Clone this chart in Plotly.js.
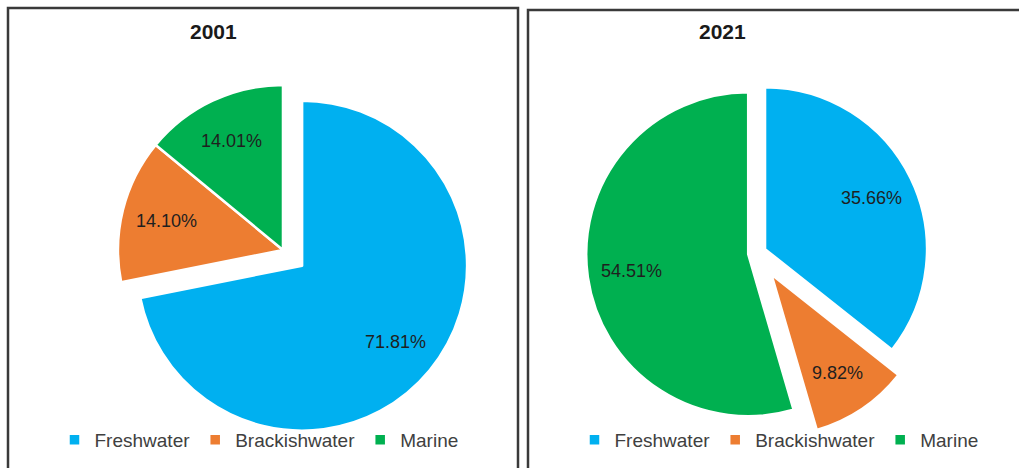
<!DOCTYPE html>
<html>
<head>
<meta charset="utf-8">
<script src="https://cdn.plot.ly/plotly-3.0.1.min.js"></script>
<style>
  html, body { margin: 0; padding: 0; background: #ffffff; }
  #chart { width: 1019px; height: 468px; }
</style>
</head>
<body>
<div id="chart"></div>
<script>
// ---- data ----
const categories = ['Freshwater', 'Brackishwater', 'Marine'];
const years = ['2001', '2021'];
const share2001 = [71.81, 14.10, 14.01];
const share2021 = [35.66, 9.82, 54.51];

// ---- styling ----
const colors = ['#00B0F0', '#ED7D31', '#00B050'];
const W = 1019, H = 468;
const px = x => x / W;
const py = y => 1 - y / H;
const font = 'Liberation Sans, Arial, sans-serif';
const labelFrac = 0.73;   // radial position of the value labels (fraction of radius)

const common = {
  type: 'pie',
  labels: categories,
  sort: false,
  direction: 'clockwise',
  rotation: 0,
  marker: { colors: colors, line: { color: '#ffffff', width: 2.5 } },
  textinfo: 'none',
  textposition: 'none',
  hoverinfo: 'label+value'
};

const trace2001 = Object.assign({}, common, {
  name: years[0],
  values: share2001,
  pull: [0.15, 0, 0],
  domain: { x: [0.0915, 0.4639], y: [0.0604, 0.8713] },
  legend: 'legend',
  legendgroup: 'y2001'
});

const trace2021 = Object.assign({}, common, {
  name: years[1],
  values: share2021,
  pull: [0.055, 0.16, 0.055],
  domain: { x: [0.5585, 0.9273], y: [0.0579, 0.8609] },
  legend: 'legend2',
  legendgroup: 'y2021'
});

const legendBase = {
  orientation: 'h',
  xanchor: 'center',
  yanchor: 'middle',
  y: py(440),
  font: { family: font, size: 19, color: '#404040' },
  bgcolor: 'rgba(0,0,0,0)',
  itemwidth: 30,
  traceorder: 'normal'
};

const titleAnn = (txt, x) => ({
  text: '<b>' + txt + '</b>', x: px(x), y: py(32), xref: 'paper', yref: 'paper',
  xanchor: 'center', yanchor: 'middle', showarrow: false,
  font: { family: font, size: 21, color: '#1a1a1a' }
});

const baseAnnotations = [titleAnn(years[0], 213), titleAnn(years[1], 722)];

const layout = {
  width: W,
  height: H,
  margin: { l: 0, r: 0, t: 0, b: 0 },
  paper_bgcolor: '#ffffff',
  plot_bgcolor: '#ffffff',
  showlegend: true,
  legend: Object.assign({}, legendBase, { x: px(259) }),
  legend2: Object.assign({}, legendBase, { x: px(779) }),
  annotations: baseAnnotations,
  shapes: [
    { type: 'rect', xref: 'paper', yref: 'paper', x0: px(8), x1: px(518), y0: py(472), y1: py(8),
      line: { color: '#3a3a3a', width: 2.5 } },
    { type: 'rect', xref: 'paper', yref: 'paper', x0: px(528), x1: px(1024), y0: py(472), y1: py(10),
      line: { color: '#3a3a3a', width: 2.5 } }
  ]
};

Plotly.newPlot('chart', [trace2001, trace2021], layout, { staticPlot: true, displayModeBar: false })
  .then(gd => {
    // value labels placed along each slice's mid-angle, using the pie geometry Plotly computed
    const labelAnns = [];
    gd.calcdata.forEach((cd, t) => {
      const cd0 = cd[0];
      const tr = cd0.trace;
      const vals = tr.values;
      const total = vals.reduce((a, b) => a + b, 0);
      let cum = 0;
      vals.forEach((v, i) => {
        const mid = 2 * Math.PI * (cum + v / 2) / total;
        cum += v;
        const pull = (Array.isArray(tr.pull) ? tr.pull[i] : tr.pull) || 0;
        const d = (pull + labelFrac) * cd0.r;
        const x = cd0.cx + d * Math.sin(mid);
        const y = cd0.cy - d * Math.cos(mid);
        labelAnns.push({
          text: v.toFixed(2) + '%', x: x / W, y: 1 - y / H, xref: 'paper', yref: 'paper',
          xanchor: 'center', yanchor: 'middle', showarrow: false,
          font: { family: font, size: 18, color: '#1f1f1f' }
        });
      });
    });
    return Plotly.relayout(gd, { annotations: baseAnnotations.concat(labelAnns) });
  });
</script>
</body>
</html>
